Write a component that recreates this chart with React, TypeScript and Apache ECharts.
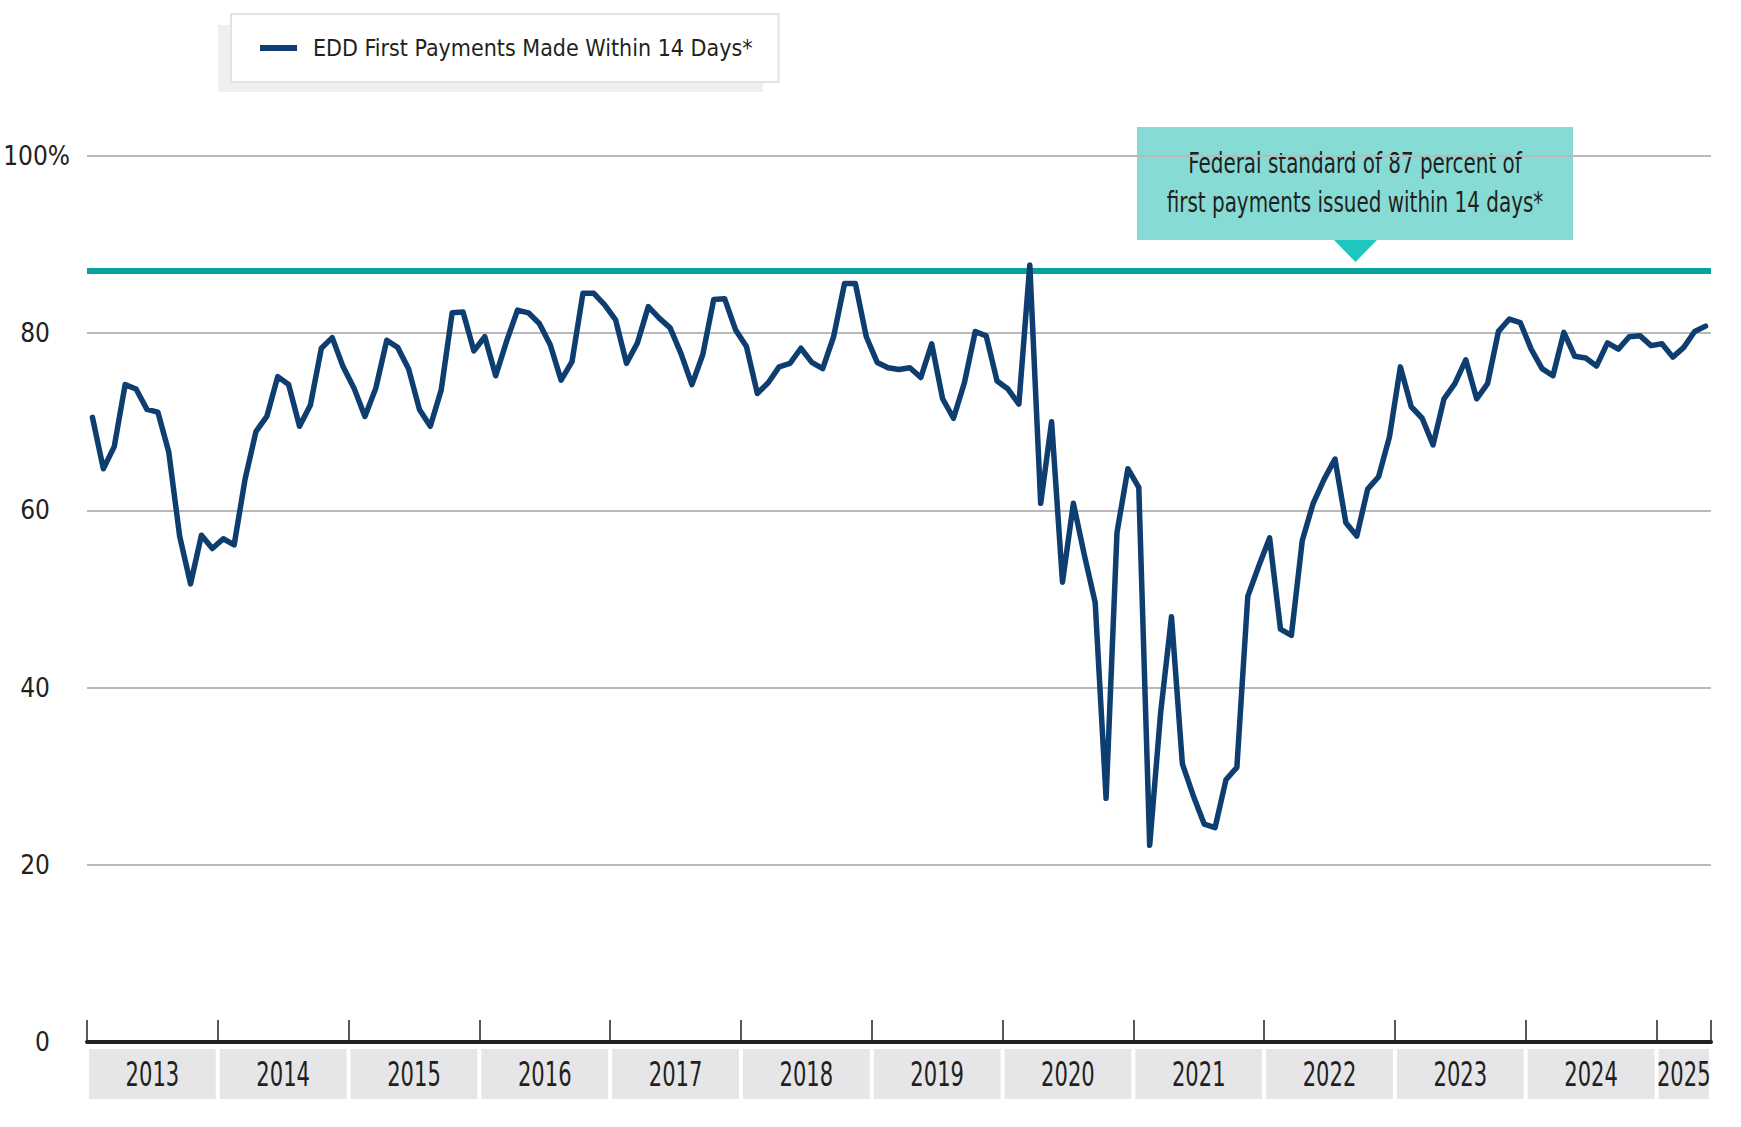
import React, { useEffect, useRef } from "react";
import * as echarts from "echarts";

// ---------- data ----------
const years = ["2013", "2014", "2015", "2016", "2017", "2018", "2019", "2020", "2021", "2022", "2023", "2024", "2025"];
const monthsPerYear = [12, 12, 12, 12, 12, 12, 12, 12, 12, 12, 12, 12, 5];

const v2013 = [70.5, 64.7, 67.2, 74.2, 73.7, 71.4, 71.1, 66.6, 57.1, 51.7, 57.2, 55.7];
const v2014 = [56.8, 56.1, 63.5, 68.9, 70.6, 75.1, 74.2, 69.5, 71.9, 78.3, 79.5, 76.2];
const v2015 = [73.8, 70.6, 73.8, 79.2, 78.4, 76.0, 71.4, 69.5, 73.6, 82.3, 82.4, 78.0];
const v2016 = [79.6, 75.2, 79.1, 82.6, 82.3, 81.1, 78.7, 74.7, 76.8, 84.5, 84.5, 83.2];
const v2017 = [81.5, 76.6, 78.9, 83.0, 81.7, 80.6, 77.7, 74.2, 77.6, 83.8, 83.9, 80.4];
const v2018 = [78.5, 73.2, 74.4, 76.2, 76.6, 78.3, 76.7, 76.0, 79.6, 85.6, 85.6, 79.6];
const v2019 = [76.7, 76.1, 75.9, 76.1, 75.0, 78.8, 72.6, 70.4, 74.4, 80.2, 79.7, 74.6];
const v2020 = [73.7, 72.0, 87.7, 60.8, 70.0, 51.9, 60.8, 55.0, 49.6, 27.5, 57.5, 64.7];
const v2021 = [62.6, 22.2, 37.1, 48.0, 31.4, 27.8, 24.6, 24.2, 29.6, 31.0, 50.3, 53.7];
const v2022 = [56.9, 46.6, 45.9, 56.6, 60.8, 63.5, 65.8, 58.6, 57.1, 62.4, 63.8, 68.3];
const v2023 = [76.2, 71.7, 70.4, 67.4, 72.6, 74.3, 77.0, 72.6, 74.3, 80.2, 81.6, 81.2];
const v2024 = [78.2, 76.0, 75.2, 80.1, 77.4, 77.2, 76.3, 78.9, 78.2, 79.6, 79.7, 78.6];
const v2025 = [78.8, 77.3, 78.4, 80.2, 80.8];

const yearValues = [v2013, v2014, v2015, v2016, v2017, v2018, v2019, v2020, v2021, v2022, v2023, v2024, v2025];

const yMin = 0;
const yMax = 100;
const yInterval = 20;
const federalStandard = 87;

const seriesName = "EDD First Payments Made Within 14 Days*";
const calloutLines = ["Federal standard of 87 percent of", "first payments issued within 14 days*"];

// ---------- derived ----------
const categories: string[] = [];
const yearSpans: { start: number; end: number }[] = [];
years.forEach((y, yi) => {
  const start = categories.length;
  for (let m = 0; m < monthsPerYear[yi]; m++) categories.push(`${y}-${String(m + 1).padStart(2, "0")}`);
  yearSpans.push({ start, end: categories.length });
});
const values: number[] = ([] as number[]).concat(...yearValues);

const FONT = '"Liberation Sans Narrow", "DejaVu Sans Condensed", "Roboto Condensed", "Noto Sans", sans-serif';
const TEXT = "#231f20";
const NAVY = "#0e3d6f";
const TEAL = "#07a299";

export default function App() {
  const ref = useRef<HTMLDivElement>(null);

  useEffect(() => {
    if (!ref.current) return;
    const chart = echarts.init(ref.current, undefined, { renderer: "svg" });

    const option: any = {
      animation: false,
      backgroundColor: "#ffffff",
      textStyle: { fontFamily: FONT },
      grid: { left: 87, right: 30, top: 156, bottom: 85, containLabel: false, outerBoundsMode: "none" },
      legend: {
        data: [seriesName],
        left: 231,
        top: 14,
        padding: [17, 26, 17, 29],
        backgroundColor: "#ffffff",
        borderColor: "#e3e3e5",
        borderWidth: 2,
        borderRadius: 0,
        itemWidth: 37,
        itemHeight: 6,
        icon: "rect",
        selectedMode: false,
        z: 5,
        textStyle: {
          fontFamily: FONT,
          fontSize: 23,
          color: TEXT,
          lineHeight: 34,
          padding: [0, 0, 0, 11],
        },
      },
      xAxis: {
        type: "category",
        data: categories,
        boundaryGap: true,
        axisLine: { show: true, lineStyle: { color: TEXT, width: 4 } },
        axisTick: {
          show: true,
          inside: true,
          length: 22,
          interval: (i: number) => i % 12 === 0,
          lineStyle: { color: TEXT, width: 1.5 },
        },
        axisLabel: { show: false },
        splitLine: { show: false },
      },
      yAxis: {
        type: "value",
        min: yMin,
        max: yMax,
        interval: yInterval,
        axisLine: { show: false },
        axisTick: { show: false },
        splitLine: { show: true, lineStyle: { color: "#b9b9bb", width: 2 } },
        axisLabel: {
          margin: 17,
          align: "right",
          fontFamily: FONT,
          fontSize: 26,
          color: TEXT,
          formatter: (v: number) => (v === 100 ? "100%" : `{n|${v}}`),
          rich: {
            n: { fontFamily: FONT, fontSize: 26, color: TEXT, padding: [0, 20, 0, 0] },
          },
        },
      },
      series: [
        {
          name: "Federal standard",
          type: "line",
          data: [],
          silent: true,
          z: 1,
          markLine: {
            silent: true,
            symbol: "none",
            label: { show: false },
            lineStyle: { color: TEAL, width: 6, type: "solid" },
            data: [{ yAxis: federalStandard }],
          },
        },
        {
          name: seriesName,
          type: "line",
          data: values,
          z: 10,
          symbol: "none",
          showSymbol: false,
          color: NAVY,
          lineStyle: { color: NAVY, width: 5.5, cap: "round", join: "round" },
        },
        {
          name: "years",
          type: "custom",
          silent: true,
          clip: false,
          z: 1,
          data: yearSpans.map((s) => [s.start, 0, s.end]),
          encode: { x: 0, y: 1 },
          renderItem: (params: any, api: any) => {
            const start = api.value(0);
            const end = api.value(2);
            const bw = api.size([1, 0])[0];
            const p0 = api.coord([start, 0]);
            const p1 = api.coord([end - 1, 0]);
            const x0 = p0[0] - bw / 2 + 2;
            const x1 = p1[0] + bw / 2 - 2;
            const yTop = p0[1] + 7;
            return {
              type: "group",
              children: [
                {
                  type: "rect",
                  shape: { x: x0, y: yTop, width: x1 - x0, height: 50 },
                  style: { fill: "#e6e6e8" },
                },
                {
                  type: "text",
                  x: (x0 + x1) / 2,
                  y: yTop + 25,
                  scaleX: 0.69,
                  style: {
                    text: years[params.dataIndex],
                    fill: TEXT,
                    fontFamily: FONT,
                    fontSize: 34,
                    align: "center",
                    verticalAlign: "middle",
                  },
                },
              ],
            };
          },
        },
      ],
      graphic: [
        {
          type: "rect",
          z: 0,
          shape: { x: 218, y: 25, width: 545, height: 67 },
          style: { fill: "#efeff0" },
          silent: true,
        },
        {
          type: "group",
          z: 20,
          silent: true,
          children: [
            {
              type: "rect",
              shape: { x: 1137, y: 127, width: 436, height: 113 },
              style: { fill: "#86dbd5" },
            },
            {
              type: "polygon",
              shape: { points: [[1334, 240], [1377, 240], [1355.5, 262]] },
              style: { fill: "#1fc6bf" },
            },
            {
              type: "text",
              x: 1355,
              y: 163,
              scaleX: 0.765,
              style: { text: calloutLines[0], fill: TEXT, fontFamily: FONT, fontSize: 29, align: "center", verticalAlign: "middle" },
            },
            {
              type: "text",
              x: 1355,
              y: 202,
              scaleX: 0.765,
              style: { text: calloutLines[1], fill: TEXT, fontFamily: FONT, fontSize: 29, align: "center", verticalAlign: "middle" },
            },
          ],
        },
      ],
    };

    chart.setOption(option);
    return () => chart.dispose();
  }, []);

  return <div ref={ref} style={{ position: "absolute", left: 0, top: 0, width: 1741, height: 1127 }} />;
}
